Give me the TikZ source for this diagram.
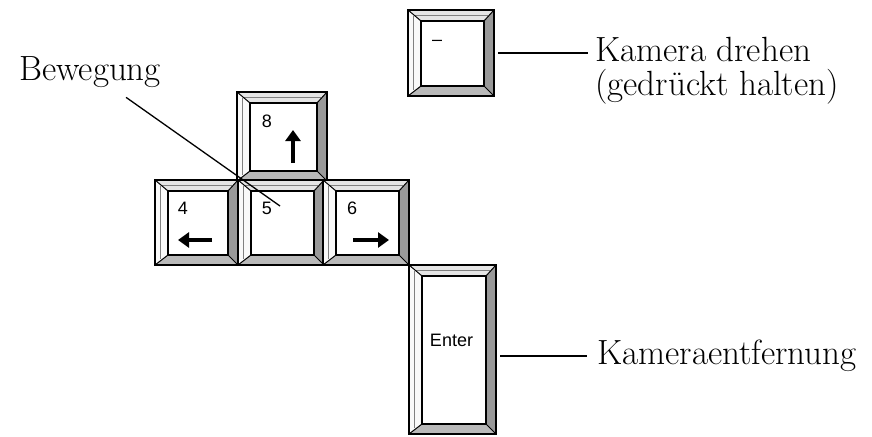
\documentclass[tikz,border=0pt]{standalone}
\usepackage{fontspec}
\newfontfamily\keyfont{Liberation Sans}
\usetikzlibrary{calc,arrows.meta}

\begin{document}
\begin{tikzpicture}[x=1pt, y=-1pt,
        keycap/.style={minimum width=86pt, minimum height=86pt, inner sep=0pt, outer sep=0pt},
        digit/.style={font=\keyfont\fontsize{18}{18}\selectfont, inner sep=0pt},
        caption/.style={font=\fontsize{35}{34}\selectfont, inner sep=0pt, align=left},
        keyarrow/.style={line width=3.6pt, -{Triangle[width=15pt,length=11pt]}},
        >=stealth]
    \useasboundingbox (0,0) rectangle (872,436);

    % keys
    \node[keycap] (kmin) at (451,53) {};
    \node[keycap, minimum width=90pt, minimum height=89pt] (k8) at (282,136.5) {};
    \node[keycap, minimum width=83pt, minimum height=85pt] (k4) at (196.5,222.5) {};
    \node[keycap, minimum height=85pt] (k5) at (281,222.5) {};
    \node[keycap, minimum height=85pt] (k6) at (366,222.5) {};
    \node[keycap, minimum width=87pt, minimum height=169pt] (kent) at (452.5,349.5) {};

    \foreach \k in {kmin,k8,k4,k5,k6,kent} {
        \coordinate (a) at (\k.north west);
        \coordinate (b) at (\k.north east);
        \coordinate (c) at (\k.south east);
        \coordinate (d) at (\k.south west);
        \coordinate (ia) at ($(a)+(13,11)$);
        \coordinate (ib) at ($(b)+(-10,11)$);
        \coordinate (ic) at ($(c)+(-10,-10)$);
        \coordinate (id) at ($(d)+(13,-10)$);
        \fill[gray!20] (a) -- (b) -- (ib) -- (ia) -- cycle;
        \fill[gray!5] (a) -- (ia) -- (id) -- (d) -- cycle;
        \fill[gray!80] (b) -- (c) -- (ic) -- (ib) -- cycle;
        \fill[gray!55] (d) -- (id) -- (ic) -- (c) -- cycle;
        \draw[gray, line width=0.8pt] ($(a)+(5,6)$) -- ($(d)+(5,-6)$);
        \draw[gray, line width=0.8pt] ($(a)+(6,5)$) -- ($(b)+(-6,5)$);
        \draw[line width=1pt] (a) -- (ia) (b) -- (ib) (c) -- (ic) (d) -- (id);
        \draw[line width=1.6pt, fill=white] (ia) rectangle (ic);
        \draw[line width=2.6pt] (a) rectangle (c);
    }

    % key labels
    \node[digit] (nmin) at ($(kmin.north west)+(29,33)$) {–};
    \node[digit] (n8) at ($(k8.north west)+(30,29)$) {8};
    \node[digit] (n4) at ($(k4.north west)+(28,28)$) {4};
    \node[digit] (n5) at ($(k5.north west)+(29,28)$) {5};
    \node[digit] (n6) at ($(k6.north west)+(29,28)$) {6};
    \node[digit] (nent) at ($(kent.center)+(-1,-9)$) {Enter};

    \draw[keyarrow] ($(k8.south west)+(56,-18)$) -- ++(0,-33);
    \draw[keyarrow] ($(k4.south west)+(57,-25)$) -- ++(-34,0);
    \draw[keyarrow] ($(k6.south west)+(30,-25)$) -- ++(36,0);

    % captions
    \node[caption, anchor=base west] (bew) at (19,80) {Bewegung};
    \node[caption, anchor=north west] (dreh) at (595,37) {Kamera drehen\\(gedrückt halten)};
    \node[caption, anchor=west] (entf) at (597,356) {Kameraentfernung};

    \coordinate (mv) at (280,206);
    \draw[line width=1.3pt] ($(bew.south)+(36,10)$) -- (mv);
    \draw[line width=1.3pt] ([xshift=4pt]kmin.east) -- ([xshift=-7pt]dreh.west |- kmin.east);
    \draw[line width=1.3pt] ([xshift=4pt]kent.east |- entf.west) -- ([xshift=-10pt]entf.west);
\end{tikzpicture}
\end{document}
